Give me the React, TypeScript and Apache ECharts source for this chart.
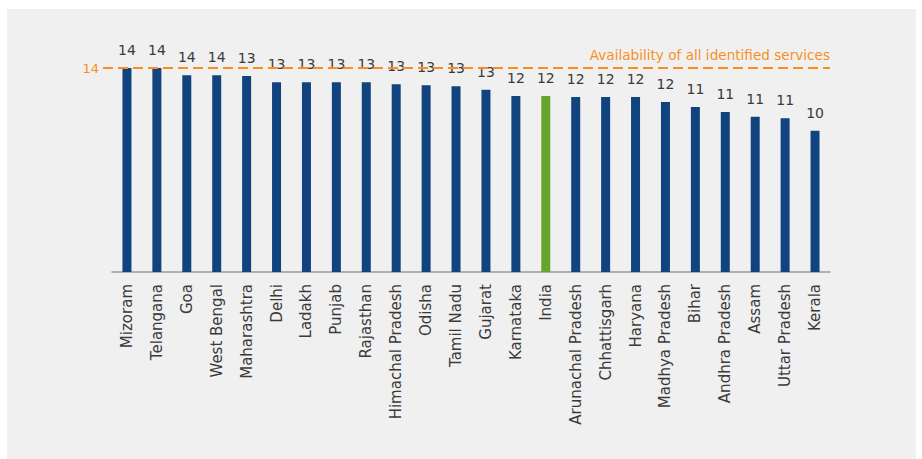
import React, { useEffect, useRef } from "react";
import * as echarts from "echarts";

const categories = [
  "Mizoram", "Telangana", "Goa", "West Bengal", "Maharashtra", "Delhi", "Ladakh", "Punjab",
  "Rajasthan", "Himachal Pradesh", "Odisha", "Tamil Nadu", "Gujarat", "Karnataka", "India",
  "Arunachal Pradesh", "Chhattisgarh", "Haryana", "Madhya Pradesh", "Bihar", "Andhra Pradesh",
  "Assam", "Uttar Pradesh", "Kerala",
];
const values = [
  14.0, 14.0, 13.5, 13.5, 13.45, 13.02, 13.02, 13.02, 13.02, 12.88, 12.81, 12.74, 12.51,
  12.08, 12.08, 12.01, 12.01, 12.01, 11.67, 11.32, 10.98, 10.66, 10.55, 9.7,
];
const highlight = "India";
const targetValue = 14;
const targetLabel = "Availability of all identified services";

const BLUE = "#11437f";
const GREEN = "#67a32f";
const ORANGE = "#f7901e";
const FONT = "DejaVu Sans";

export default function App() {
  const ref = useRef<HTMLDivElement>(null);
  useEffect(() => {
    if (!ref.current) return;
    const chart = echarts.init(ref.current, null, { renderer: "svg" });
    chart.setOption({
      animation: false,
      backgroundColor: "#ffffff",
      textStyle: { fontFamily: FONT },
      graphic: [
        {
          type: "rect",
          z: -10,
          silent: true,
          shape: { x: 7, y: 9, width: 909, height: 450 },
          style: { fill: "#f0f0f0" },
        },
      ],
      grid: { left: 112, right: 92, top: 68, bottom: 187 },
      xAxis: {
        type: "category",
        data: categories,
        axisTick: { show: false },
        axisLine: { lineStyle: { color: "#9a9a9a", width: 1.5 } },
        axisLabel: {
          rotate: 90,
          interval: 0,
          margin: 12,
          color: "#3a3a3a",
          fontSize: 15,
          fontFamily: FONT,
        },
      },
      yAxis: {
        type: "value",
        min: 0,
        max: targetValue,
        show: false,
        splitLine: { show: false },
      },
      series: [
        {
          type: "bar",
          barWidth: 9,
          data: values.map((v, i) => ({
            value: v,
            itemStyle: { color: categories[i] === highlight ? GREEN : BLUE },
          })),
          label: {
            show: true,
            position: "top",
            distance: 11,
            color: "#3a3a3a",
            fontSize: 14,
            fontFamily: FONT,
            formatter: (p: any) => String(Math.round(p.value)),
          },
          markLine: {
            silent: true,
            symbol: "none",
            z: 10,
            lineStyle: { color: ORANGE, type: [10, 5], width: 2 },
            data: [
              [
                {
                  x: 103,
                  yAxis: targetValue,
                  label: {
                    show: true,
                    position: "start",
                    distance: 4,
                    formatter: String(targetValue),
                    color: ORANGE,
                    fontSize: 13,
                    fontFamily: FONT,
                  },
                },
                { x: 830, yAxis: targetValue },
              ],
              [
                {
                  x: 103,
                  yAxis: targetValue,
                  lineStyle: { color: "rgba(0,0,0,0)" },
                  label: {
                    show: true,
                    position: "insideEndTop",
                    distance: [0, 6],
                    formatter: targetLabel,
                    color: ORANGE,
                    fontSize: 13.6,
                    fontFamily: FONT,
                  },
                },
                { x: 830, yAxis: targetValue },
              ],
            ],
          },
        },
      ],
    });
    return () => chart.dispose();
  }, []);
  return (
    <div
      ref={ref}
      style={{ position: "fixed", left: 0, top: 0, width: 922, height: 459 }}
    />
  );
}
